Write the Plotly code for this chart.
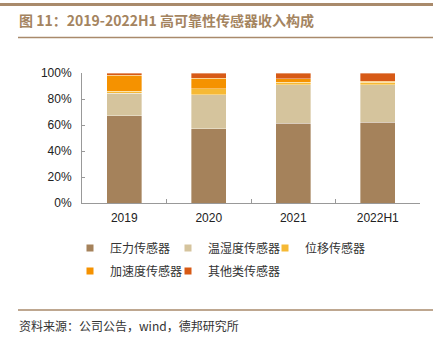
import plotly.graph_objects as go

categories = ["2019", "2020", "2021", "2022H1"]
series_names = ["压力传感器", "温湿度传感器", "位移传感器", "加速度传感器", "其他类传感器"]
pressure = [67.2, 57.2, 61.5, 62.1]
humidity = [17.4, 25.9, 29.5, 28.7]
displacement = [1.3, 4.6, 1.8, 2.0]
acceleration = [12.3, 8.2, 2.6, 1.0]
other = [1.8, 4.1, 4.6, 6.2]
colors = ["#A5825B", "#D5C49D", "#F6B935", "#F59200", "#D75A16"]
ytick_vals = [0, 20, 40, 60, 80, 100]
ytick_text = ["0%", "20%", "40%", "60%", "80%", "100%"]

W, H = 435, 340
L, R, T, B = 82, 15, 73, 137
PW, PH = W - L - R, H - T - B


def px(x):
    return (x - L) / PW


def py(y):
    return (H - B - y) / PH


fig = go.Figure()
series = [pressure, humidity, displacement, acceleration, other]
for name, vals, col in zip(series_names, series, colors):
    fig.add_trace(go.Bar(
        x=categories, y=vals, name=name, width=0.41,
        marker=dict(color=col, line=dict(color="rgba(255,255,255,0.6)", width=0.6)),
        showlegend=False,
    ))

# legend entries (one legend per entry for exact placement); values = symbol centre px
legend_pos = [(90, 248), (188, 248), (285, 248), (90, 271), (188, 271)]
legend_ids = ["legend", "legend2", "legend3", "legend4", "legend5"]
for name, col, lid in zip(series_names, colors, legend_ids):
    fig.add_trace(go.Scatter(
        x=[None], y=[None], mode="markers", name=name,
        marker=dict(symbol="square", size=7, color=col),
        legend=lid, showlegend=True,
    ))

leg_common = dict(
    orientation="h", xanchor="left", yanchor="middle",
    font=dict(size=12, color="#333333", family="Noto Sans CJK SC"),
    bgcolor="rgba(0,0,0,0)", itemwidth=30, tracegroupgap=0,
)
for lid, (lx, ly) in zip(legend_ids, legend_pos):
    fig.update_layout(**{lid: dict(x=px(lx - 20), y=py(ly), **leg_common)})

fig.update_layout(
    barmode="stack",
    width=W, height=H,
    margin=dict(l=L, r=R, t=T, b=B, pad=0),
    paper_bgcolor="white", plot_bgcolor="white",
    font=dict(family="Liberation Sans, Arial, sans-serif", color="#333333", size=12),
    xaxis=dict(
        type="category", showgrid=False, showline=True, linecolor="#999999", linewidth=1,
        ticks="inside", tickson="boundaries", ticklen=4, tickcolor="#999999",
        tickfont=dict(size=12, color="#222222"), ticklabelstandoff=4,
        range=[-0.5, 3.5],
    ),
    yaxis=dict(
        range=[0, 100], tickvals=ytick_vals, ticktext=ytick_text,
        showgrid=False, showline=True, linecolor="#999999", linewidth=1,
        ticks="inside", ticklen=3, tickcolor="#999999", zeroline=False,
        tickfont=dict(size=12, color="#222222"), ticklabelstandoff=7,
    ),
    shapes=[
        dict(type="line", xref="paper", yref="paper", x0=px(0), x1=px(433), y0=py(4.5), y1=py(4.5),
             line=dict(color="#A98A6B", width=3)),
        dict(type="line", xref="paper", yref="paper", x0=px(18), x1=px(433), y0=py(37.5), y1=py(37.5),
             line=dict(color="#A98A6B", width=1.5)),
        dict(type="line", xref="paper", yref="paper", x0=px(18), x1=px(433), y0=py(310), y1=py(310),
             line=dict(color="#A98A6B", width=1.5)),
    ],
    annotations=[
        dict(text="<b>图 11：2019-2022H1 高可靠性传感器收入构成</b>", xref="paper", yref="paper",
             x=px(17), y=py(20), xanchor="left", yanchor="middle", showarrow=False,
             font=dict(family="Noto Sans CJK SC", size=14, color="#A4845F")),
        dict(text="资料来源：公司公告，wind，德邦研究所", xref="paper", yref="paper",
             x=px(17), y=py(325), xanchor="left", yanchor="middle", showarrow=False,
             font=dict(family="Noto Sans CJK SC", size=12, color="#333333")),
    ],
)

fig.write_html("out.html")
